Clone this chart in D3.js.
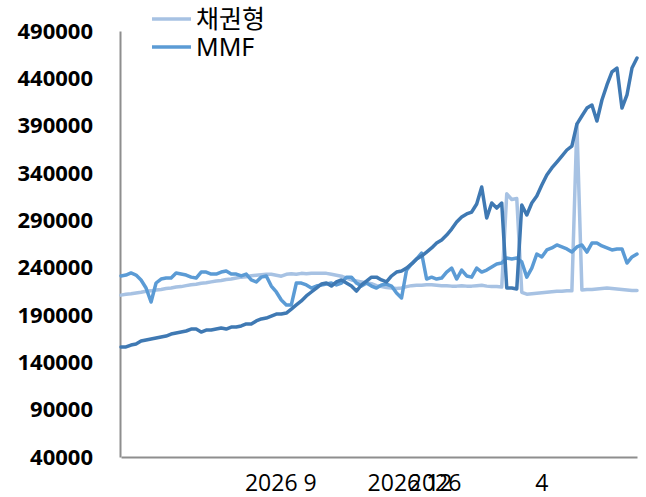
<!DOCTYPE html>
<html>
<head>
<meta charset="utf-8">
<script src="https://cdn.jsdelivr.net/npm/d3@7"></script>
<style>
  html, body { margin: 0; padding: 0; background: #fff; }
  svg { display: block; }
</style>
</head>
<body>
<svg id="chart" width="646" height="497"></svg>
<script>
// Weekly fund balances (one value per period, oldest first)
const bondFund = [
  211000,212000,212500,213300,214000,215000,215500,216500,217000,218000,
  218500,219500,220000,221000,222000,222500,223500,224000,225000,226000,
  226500,227500,228000,229000,230000,230500,231500,232000,
  232500,233000,233000,232000,231000,233000,233500,233000,234000,233500,
  234000,234000,234000,234000,233000,232000,231000,
  229000,227000,226000,225000,224000,223000,221000,220000,219000,218500,
  218000,218500,220000,221000,221500,221500,222000,222000,221500,221000,
  221000,220500,220500,221000,220500,220500,221000,221500,220500,220000,
  220000,219500,
  318000,312000,313000,
  214000,212000,212500,213000,213500,214000,214500,215000,215000,215500,215500,
  391700,
  216500,217000,217000,217500,218000,218500,218000,217500,217000,216500,216000,216000
];

const mmf = [
  231200,232200,234400,232200,227000,218500,203700,223800,228000,229000,
  229000,234400,233300,232200,230000,229000,235400,235400,233300,233300,
  235400,236500,233300,233300,231200,233300,227000,224900,230000,231200,
  220600,214300,205800,200600,200600,223800,223800,221700,218500,220600,
  221700,222700,223800,221700,223800,230000,230000,223800,220600,223800,
  220600,218500,221700,222700,220600,213200,208000,237500,243900,249100,
  255500,228000,230000,228000,229000,235400,239600,228000,237500,231200,
  230000,239600,235400,237500,240700,243900,244900,250200,249100,250200,
  246000,230000,239600,254400,251300,258700,260800,264000,261900,259800,
  256500,261900,264000,256500,266000,266000,262900,260800,258700,259800,
  259800,244900,251300,254400
];

const otherFund = [
  156200,156200,158300,159400,162500,163600,164600,165700,166800,167800,
  169900,171000,172000,173100,175200,175200,172000,174100,174100,175200,
  176300,175200,177300,177300,178400,180500,180500,183700,185800,186800,
  188900,191000,191000,192100,196300,200600,204800,210100,214300,218500,
  222700,223800,220600,224900,227000,223800,220600,215300,221700,225900,
  230000,230000,227000,224900,231200,235400,236500,239600,243900,249100,
  252300,256500,260800,266000,269200,274500,280800,288200,293500,296700,
  298800,307200,325200,292500,308300,303000,308300,218500,218500,217500,
  306200,295600,308300,315700,327300,337900,345300,351600,357900,364300,
  368500,391700,400200,408600,411800,394900,417100,433000,446700,450900,
  408600,422400,450900,461500
];

const yTicks = [40000, 90000, 140000, 190000, 240000, 290000, 340000, 390000, 440000, 490000];

// Period-axis labels and the period index each one sits at
const xLabels = ["2026 9", "2026 12", "2026", "4"];
const xLabelAt = [31.8, 57.6, 62.6, 83.9];

const seriesNames = ["채권형", "MMF"];

const svg = d3.select("#chart");

const x = d3.scaleLinear().domain([0, bondFund.length - 1]).range([121, 637]);
const y = d3.scaleLinear().domain([40000, 490000]).range([457, 31]);

const axisColor = "#8e8e8e";

// Y axis: bold value labels, no tick marks
const yAxis = svg.append("g")
  .attr("transform", "translate(120,0)")
  .call(d3.axisLeft(y).tickValues(yTicks).tickSize(0).tickPadding(27).tickFormat(d3.format("d")));
yAxis.select(".domain").attr("stroke", axisColor).attr("stroke-width", 2);
yAxis.selectAll("text")
  .attr("font-family", "'Open Sans', 'Liberation Sans', sans-serif")
  .attr("font-weight", "bold")
  .attr("font-size", 22)
  .attr("fill", "#000");

// X axis baseline with period labels
const xAxis = svg.append("g")
  .attr("transform", "translate(0,457)")
  .call(d3.axisBottom(x).tickValues(xLabelAt).tickSize(0).tickPadding(18)
    .tickFormat((d, i) => xLabels[i]));
xAxis.select(".domain").attr("stroke", axisColor).attr("stroke-width", 2);
xAxis.selectAll("text")
  .attr("font-family", "'Open Sans', 'Noto Sans', sans-serif")
  .attr("font-size", 23)
  .attr("fill", "#000");

const line = d3.line()
  .x((d, i) => x(i))
  .y(d => y(d));

const colors = { bond: "#a7c2e3", mmf: "#5b9bd5", other: "#3f79b3" };

[[bondFund, colors.bond], [mmf, colors.mmf], [otherFund, colors.other]].forEach(([data, c]) => {
  svg.append("path")
    .datum(data)
    .attr("fill", "none")
    .attr("stroke", c)
    .attr("stroke-width", 3.5)
    .attr("stroke-linejoin", "round")
    .attr("stroke-linecap", "round")
    .attr("d", line);
});

// Legend
const legend = svg.append("g");
[[seriesNames[0], colors.bond, 19], [seriesNames[1], colors.mmf, 47]].forEach(([name, c, ly]) => {
  legend.append("line")
    .attr("x1", 152).attr("x2", 191)
    .attr("y1", ly).attr("y2", ly)
    .attr("stroke", c).attr("stroke-width", 3.5);
  legend.append("text")
    .attr("x", 196).attr("y", ly)
    .attr("dy", "0.35em")
    .attr("font-family", "'Noto Sans', 'Noto Sans CJK KR', sans-serif")
    .attr("font-size", 25)
    .attr("fill", "#000")
    .text(name);
});
</script>
</body>
</html>
